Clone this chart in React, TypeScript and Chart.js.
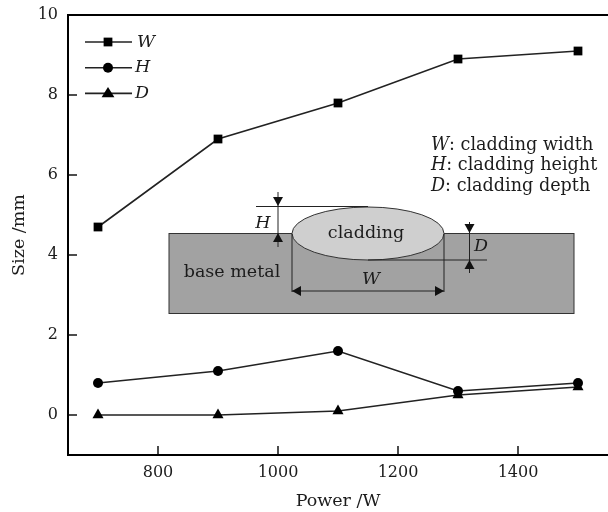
import React, { useEffect, useRef } from "react";
import { Chart, registerables } from "chart.js";

Chart.register(...registerables);

const powers = [700, 900, 1100, 1300, 1500];
const widthW = [4.7, 6.9, 7.8, 8.9, 9.1];
const heightH = [0.8, 1.1, 1.6, 0.6, 0.8];
const depthD = [0, 0, 0.1, 0.5, 0.7];
const xTicks = [800, 1000, 1200, 1400];
const yTicks = [0, 2, 4, 6, 8, 10];
const seriesNames = ["W", "H", "D"];
const seriesMarkers = ["rect", "circle", "triangle"];
const seriesRadii = [6.2, 5, 6.4];
const noteRows = [
  ["W", ": cladding width"],
  ["H", ": cladding height"],
  ["D", ": cladding depth"],
];

const INK = "#1c1c1c";
const FONT = '"DejaVu Serif"';
const SIZE = 17.5;
const TICK_SIZE = 16;

const pairs = (ys: number[]) => powers.map((x, i) => ({ x, y: ys[i] }));

function head(ctx: CanvasRenderingContext2D, x: number, y: number, dx: number, dy: number) {
  const l = 9, w = 5;
  ctx.beginPath();
  ctx.moveTo(x, y);
  ctx.lineTo(x - dx * l - dy * w, y - dy * l - dx * w);
  ctx.lineTo(x - dx * l + dy * w, y - dy * l + dx * w);
  ctx.closePath();
  ctx.fill();
}

function seg(ctx: CanvasRenderingContext2D, a: number, b: number, c: number, d: number) {
  ctx.beginPath();
  ctx.moveTo(a, b);
  ctx.lineTo(c, d);
  ctx.stroke();
}

const insetPlugin = {
  id: "inset",
  beforeDatasetsDraw(chart: any) {
    const ctx = chart.ctx as CanvasRenderingContext2D;
    ctx.save();
    ctx.strokeStyle = "#333";
    ctx.lineWidth = 1;
    ctx.fillStyle = "#a2a2a2";
    ctx.fillRect(169, 233.5, 405, 80);
    ctx.strokeRect(169, 233.5, 405, 80);
    ctx.fillStyle = "#cfcfcf";
    ctx.beginPath();
    ctx.ellipse(368, 233.5, 76, 26.5, 0, 0, Math.PI * 2);
    ctx.fill();
    ctx.stroke();

    ctx.strokeStyle = "#222";
    seg(ctx, 256, 206.5, 368, 206.5);
    seg(ctx, 278, 192, 278, 247);
    seg(ctx, 368, 260, 487, 260);
    seg(ctx, 469.5, 222, 469.5, 273);
    seg(ctx, 292, 234, 292, 292);
    seg(ctx, 444, 234, 444, 292);
    seg(ctx, 292, 291, 444, 291);
    ctx.fillStyle = "#111";
    head(ctx, 278, 206, 0, 1);
    head(ctx, 278, 233, 0, -1);
    head(ctx, 469.5, 233, 0, 1);
    head(ctx, 469.5, 260, 0, -1);
    head(ctx, 292, 291, -1, 0);
    head(ctx, 444, 291, 1, 0);

    ctx.fillStyle = INK;
    ctx.textBaseline = "middle";
    ctx.textAlign = "center";
    ctx.font = `${SIZE}px ${FONT}`;
    ctx.fillText("cladding", 366, 233);
    ctx.fillText("base metal", 232, 272);
    ctx.font = `italic ${SIZE}px ${FONT}`;
    ctx.fillText("H", 263, 223);
    ctx.fillText("W", 371, 279);
    ctx.fillText("D", 481, 246);
    ctx.restore();
  },
  afterDraw(chart: any) {
    const ctx = chart.ctx as CanvasRenderingContext2D;
    const { left, right, top, bottom } = chart.chartArea;
    ctx.save();
    // axes frame and inward ticks
    ctx.strokeStyle = "#000";
    ctx.lineWidth = 2;
    ctx.beginPath();
    ctx.moveTo(right, top);
    ctx.lineTo(left, top);
    ctx.lineTo(left, bottom);
    ctx.lineTo(right, bottom);
    ctx.stroke();
    ctx.lineWidth = 1.4;
    yTicks.slice(0, -1).forEach((v) => {
      const y = chart.scales.y.getPixelForValue(v);
      seg(ctx, left, y, left + 9, y);
    });
    xTicks.forEach((v) => {
      const x = chart.scales.x.getPixelForValue(v);
      seg(ctx, x, bottom, x, bottom - 9);
    });

    // legend
    ctx.textAlign = "left";
    ctx.textBaseline = "middle";
    chart.data.datasets.forEach((ds: any, i: number) => {
      const y = 42 + i * 25.7;
      ctx.strokeStyle = ds.borderColor;
      ctx.lineWidth = ds.borderWidth;
      seg(ctx, 85, y, 132, y);
      ctx.fillStyle = ds.pointBackgroundColor;
      const r = ds.pointRadius;
      ctx.beginPath();
      if (ds.pointStyle === "rect") {
        const s = r * Math.SQRT1_2;
        ctx.rect(108 - s, y - s, 2 * s, 2 * s);
      } else if (ds.pointStyle === "circle") {
        ctx.arc(108, y, r, 0, Math.PI * 2);
      } else {
        ctx.moveTo(108, y - r);
        ctx.lineTo(108 + r, y + r * 0.6);
        ctx.lineTo(108 - r, y + r * 0.6);
        ctx.closePath();
      }
      ctx.fill();
      ctx.fillStyle = INK;
      ctx.font = `italic ${SIZE}px ${FONT}`;
      ctx.fillText(ds.label, i === 0 ? 137 : 135, y);
    });

    // note
    noteRows.forEach(([a, b], i) => {
      const y = 145 + i * 20.5;
      ctx.font = `italic 17.6px ${FONT}`;
      ctx.fillStyle = INK;
      ctx.fillText(a, 431, y);
      const w = ctx.measureText(a).width;
      ctx.font = `17.6px ${FONT}`;
      ctx.fillText(b, 431 + w, y);
    });
    ctx.restore();
  },
};

export default function App() {
  const ref = useRef<HTMLCanvasElement>(null);
  useEffect(() => {
    const series = [widthW, heightH, depthD];
    const chart = new Chart(ref.current!, {
      type: "line",
      data: {
        datasets: series.map((ys, i) => ({
          label: seriesNames[i],
          data: pairs(ys),
          borderColor: "#222",
          borderWidth: 1.6,
          tension: 0,
          fill: false,
          pointStyle: seriesMarkers[i],
          pointRadius: seriesRadii[i],
          pointBorderWidth: 0,
          pointBackgroundColor: "#000",
          pointBorderColor: "#000",
        })),
      },
      options: {
        animation: false,
        responsive: false,
        layout: { autoPadding: false, padding: { top: 15, left: 0, right: 0, bottom: 0 } },
        plugins: { legend: { display: false }, tooltip: { enabled: false } },
        scales: {
          x: {
            type: "linear",
            min: 650,
            max: 1550,
            afterBuildTicks: (s: any) => {
              s.ticks = xTicks.map((value) => ({ value }));
            },
            afterFit: (s: any) => {
              s.height = 57;
              s.paddingLeft = 0;
              s.paddingRight = 0;
            },
            grid: { display: false, drawTicks: false },
            border: { display: false },
            ticks: {
              color: INK,
              font: { family: FONT, size: TICK_SIZE },
              padding: 8,
              maxRotation: 0,
              callback: (v: any) => String(v),
            },
            title: {
              display: true,
              text: "Power /W",
              color: INK,
              font: { family: FONT, size: SIZE },
              padding: { top: 0, bottom: 0 },
            },
          },
          y: {
            type: "linear",
            min: -1,
            max: 10,
            afterBuildTicks: (s: any) => {
              s.ticks = yTicks.map((value) => ({ value }));
            },
            afterFit: (s: any) => {
              s.width = 68;
              s.paddingTop = 0;
              s.paddingBottom = 0;
            },
            grid: { display: false, drawTicks: false },
            border: { display: false },
            ticks: {
              color: INK,
              font: { family: FONT, size: TICK_SIZE },
              padding: 10,
              callback: (v: any) => String(v),
            },
            title: {
              display: true,
              text: "Size /mm",
              color: INK,
              font: { family: FONT, size: SIZE },
              padding: { top: 9, bottom: 0 },
            },
          },
        },
      },
      plugins: [insetPlugin],
    } as any);
    return () => chart.destroy();
  }, []);
  return (
    <canvas
      ref={ref}
      width={608}
      height={512}
      style={{ position: "absolute", left: 0, top: 0, width: 608, height: 512, background: "#fff" }}
    />
  );
}
